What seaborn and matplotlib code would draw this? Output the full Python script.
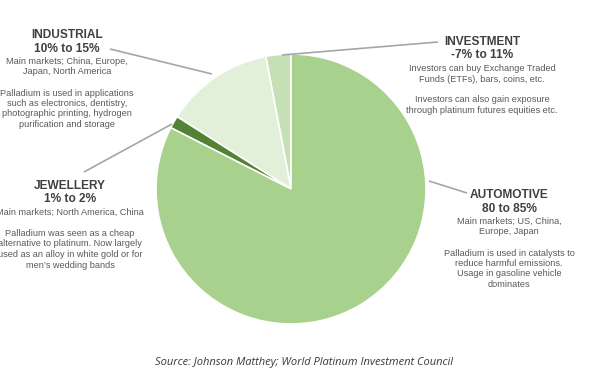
import matplotlib
matplotlib.use("Agg")
import matplotlib.pyplot as plt
import seaborn as sns

# palladium demand shares (approximate mid-points)
segments = ["Investment", "Industrial", "Jewellery", "Automotive"]
shares = [3.0, 13.0, 1.5, 82.5]
colors = ["#c5e0b4", "#e2f0d9", "#548235", "#a9d18e"]

# label blocks: title, range and description lines per segment
titles = ["INVESTMENT", "INDUSTRIAL", "JEWELLERY", "AUTOMOTIVE"]
ranges = ["-7% to 11%", "10% to 15%", "1% to 2%", "80 to 85%"]
notes = [
    ["Investors can buy Exchange Traded", "Funds (ETFs), bars, coins, etc.", "",
     "Investors can also gain exposure", "through platinum futures equities etc."],
    ["Main markets; China, Europe,", "Japan, North America", "",
     "Palladium is used in applications", "such as electronics, dentistry,",
     "photographic printing, hydrogen", "purification and storage"],
    ["Main markets; North America, China", "",
     "Palladium was seen as a cheap", "alternative to platinum. Now largely",
     "used as an alloy in white gold or for", "men\u2019s wedding bands"],
    ["Main markets; US, China,", "Europe, Japan", "",
     "Palladium is used in catalysts to", "reduce harmful emissions.",
     "Usage in gasoline vehicle", "dominates"],
]
source = "Source: Johnson Matthey; World Platinum Investment Council"

W, H = 600, 373

sns.set_theme(style="white")
plt.rcParams["font.family"] = ["Liberation Sans", "DejaVu Sans"]

fig = plt.figure(figsize=(6, 3.73), dpi=100)
ax = fig.add_axes([0, 0, 1, 1])

ax.pie(shares, colors=colors, startangle=90, counterclock=True,
       center=(291, H - 189), radius=135,
       wedgeprops=dict(edgecolor="white", linewidth=1.2))

# pie() resets the limits, so set the pixel frame afterwards
ax.set_xlim(0, W)
ax.set_ylim(0, H)
ax.set_aspect("equal")
ax.axis("off")


def py(y):
    return H - y


# leader lines (pixel coords)
leaders = [((282, 55), (438, 42)), ((110, 49), (212, 74)),
           ((172, 124), (84, 172)), ((429, 181), (467, 193))]
for (x0, y0), (x1, y1) in leaders:
    ax.plot([x0, x1], [py(y0), py(y1)], color="#a6a6a6", lw=1.2,
            solid_capstyle="butt")

centres_x = [482, 67, 70, 509]
title_y = [42, 35, 186, 195]
for t, r, lines, cx, ty in zip(titles, ranges, notes, centres_x, title_y):
    ax.text(cx, py(ty), t, ha="center", va="center", fontsize=8.6,
            fontweight="bold", color="#404040")
    ax.text(cx, py(ty + 13.5), r, ha="center", va="center", fontsize=8.6,
            fontweight="bold", color="#404040")
    y = ty + 26.5
    for ln in lines:
        if ln:
            ax.text(cx, py(y), ln, ha="center", va="center", fontsize=6.6,
                    color="#595959")
        y += 10.5

ax.text(304, py(362), source, ha="center", va="center", fontsize=8,
        style="italic", color="#3a3a3a", family=["Open Sans", "DejaVu Sans"])

fig.savefig("out.png", dpi=100)
